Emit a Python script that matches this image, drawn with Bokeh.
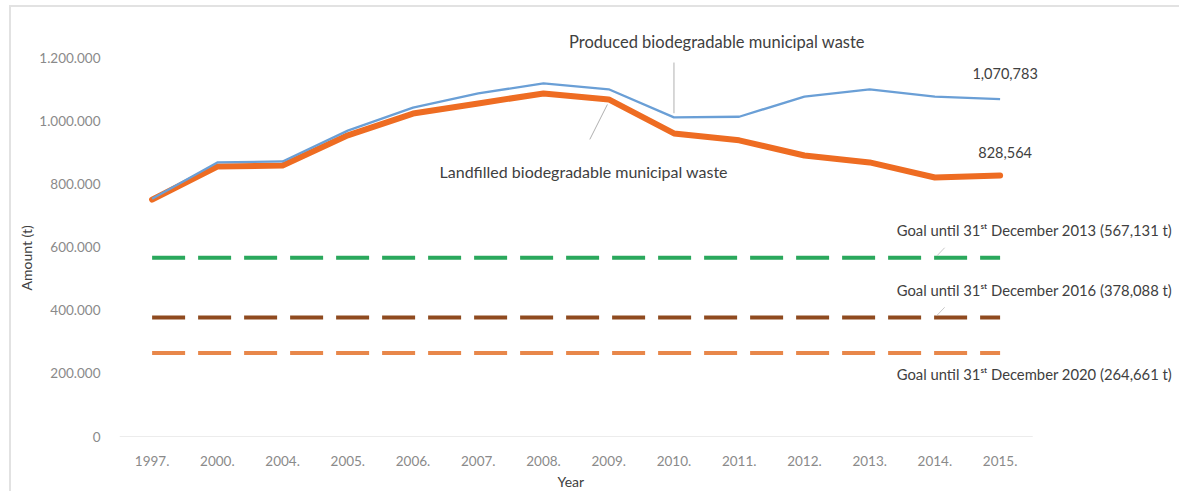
import numpy as np
from bokeh.plotting import figure
from bokeh.models import (Range1d, FixedTicker, CustomJSTickFormatter, Label,
                          LabelSet, ColumnDataSource, Title)
from bokeh.core.properties import value
from bokeh.embed import file_html
from bokeh.resources import INLINE

# ---- data ----
years = ["1997.", "2000.", "2004.", "2005.", "2006.", "2007.", "2008.",
         "2009.", "2010.", "2011.", "2012.", "2013.", "2014.", "2015."]
produced = [755000, 870000, 873000, 971000, 1044000, 1089000, 1121000,
            1102000, 1013000, 1015000, 1079000, 1102000, 1079000, 1070783]
landfilled = [752000, 857000, 860000, 956000, 1025000, 1057000, 1089000,
              1070000, 962000, 940000, 892000, 870000, 822000, 828564]
goal_values = [567131, 378088, 264661]
goal_labels = ["Goal until 31ˢᵗ December 2013 (567,131 t)",
               "Goal until 31ˢᵗ December 2016 (378,088 t)",
               "Goal until 31ˢᵗ December 2020 (264,661 t)"]
y_ticks = [0, 200000, 400000, 600000, 800000, 1000000, 1200000]
produced_name = "Produced biodegradable municipal waste"
landfilled_name = "Landfilled biodegradable municipal waste"

# ---- styles ----
FONT = "Lato"
goal_colors = ["#2aa85c", "#8f4a1f", "#e8874a"]
goal_label_offsets = [28, 27, -21]
BLUE = "#6a9fd6"
ORANGE = "#ee6c22"
TXT = "#404040"

x = np.arange(len(years))
n = len(years)

W, H = 1170, 486
LEFT, BOTTOM, TOP = 108, 57, 4
PX_PER_CAT = 65.23
frame_w = W - LEFT
x_end = -0.5 + frame_w / PX_PER_CAT

p = figure(width=W, height=H, output_backend="svg", toolbar_location=None,
           x_range=Range1d(-0.5, x_end), y_range=Range1d(0, 1349000),
           min_border_left=LEFT, min_border_right=0, min_border_top=TOP,
           min_border_bottom=BOTTOM)
p.styles = {"border-top": "2px solid #e2e2e2", "border-left": "2px solid #e2e2e2",
            "margin-left": "9px", "margin-top": "5px"}
p.outline_line_color = None
p.xgrid.visible = False
p.ygrid.visible = False

# axes
p.xaxis.ticker = FixedTicker(ticks=list(x))
p.xaxis.major_label_overrides = {int(i): years[i] for i in x}
p.xaxis.axis_line_color = None
p.xaxis.major_tick_line_color = None
p.xaxis.minor_tick_line_color = None
p.xaxis.major_label_standoff = 13

p.yaxis.ticker = FixedTicker(ticks=y_ticks)
p.yaxis.formatter = CustomJSTickFormatter(
    code="return Math.round(tick).toString().replace(/\\B(?=(\\d{3})+(?!\\d))/g, '.');")
p.yaxis.axis_line_color = None
p.yaxis.major_tick_line_color = None
p.yaxis.minor_tick_line_color = None
p.yaxis.major_label_standoff = 13

for ax in (p.xaxis, p.yaxis):
    ax.major_label_text_font = FONT
    ax.major_label_text_font_size = "13.5px"
    ax.major_label_text_color = "#8a8a8a"

# baseline
p.segment(x0=[-0.5], y0=[0], x1=[n - 0.5], y1=[0], line_color="#d9d9d9", line_width=1)

# goal dashed lines
for gv, gc in zip(goal_values, goal_colors):
    p.line(x=[x[0], x[-1]], y=[gv, gv], line_color=gc, line_width=4,
           line_dash="33 13")

# series
p.line(x=x, y=landfilled, line_color=ORANGE, line_width=6, line_join="round",
       line_cap="round")
p.line(x=x, y=produced, line_color=BLUE, line_width=2.3, line_join="round")

# leader lines
i10 = years.index("2010.")
i09 = years.index("2009.")
p.segment(x0=[x[i10]], y0=[produced[i10] + 13000], x1=[x[i10]],
          y1=[produced[i10] + 174000], line_color="#b0b0b0", line_width=1)
p.segment(x0=[x[i09] - 0.02], y0=[landfilled[i09] - 16000], x1=[x[i09] - 0.29],
          y1=[landfilled[i09] - 127000], line_color="#b0b0b0", line_width=1)
for gv in goal_values[:2]:
    p.segment(x0=[x[12] + 0.03], y0=[gv + 6000], x1=[x[12] + 0.15],
              y1=[gv + 32000], line_color="#c8c8c8", line_width=1)

# series labels
p.add_layout(Label(x=x[i10], y=produced[i10], x_offset=43, y_offset=75,
                   text=produced_name, text_align="center", text_baseline="middle",
                   text_font=FONT, text_font_size="16.5px", text_color=TXT))
p.add_layout(Label(x=x[i09], y=landfilled[i09], x_offset=-25, y_offset=-72,
                   text=landfilled_name, text_align="center", text_baseline="middle",
                   text_font=FONT, text_font_size="16px", text_color=TXT))
p.add_layout(Label(x=x[-1], y=produced[-1], x_offset=5, y_offset=26,
                   text=f"{produced[-1]:,}", text_align="center", text_baseline="middle",
                   text_font=FONT, text_font_size="14.5px", text_color=TXT))
p.add_layout(Label(x=x[-1], y=landfilled[-1], x_offset=5, y_offset=23,
                   text=f"{landfilled[-1]:,}", text_align="center", text_baseline="middle",
                   text_font=FONT, text_font_size="14.5px", text_color=TXT))

# goal labels
gsrc = ColumnDataSource(dict(x=[x[-1]] * 3, y=goal_values, text=goal_labels,
                             yo=goal_label_offsets))
p.add_layout(LabelSet(x="x", y="y", text="text", source=gsrc, x_offset=172,
                      y_offset="yo", text_align="right", text_baseline="middle",
                      text_font=value(FONT), text_font_size=value("14.8px"),
                      text_color=value(TXT)))

# axis titles
p.add_layout(Title(text="Amount (t)", align="left", offset=146, standoff=4,
                   text_font=FONT, text_font_size="14px", text_font_style="normal",
                   text_color=TXT), "left")
p.add_layout(Title(text="Year", align="left", offset=438, standoff=4,
                   text_font=FONT, text_font_size="14px", text_font_style="normal",
                   text_color=TXT), "below")

open("out.html", "w").write(file_html(p, INLINE))
